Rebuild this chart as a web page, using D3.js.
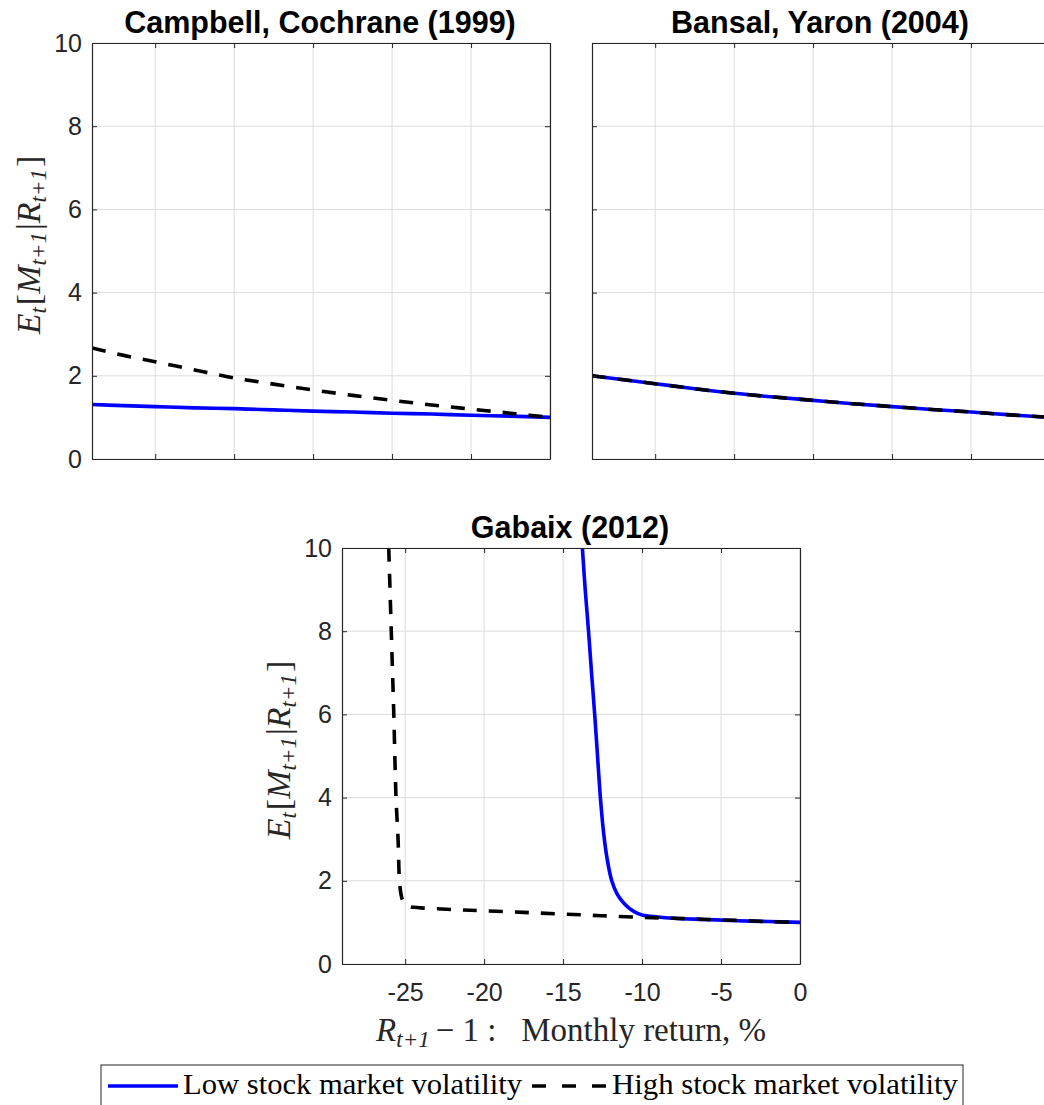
<!DOCTYPE html>
<html>
<head>
<meta charset="utf-8">
<script src="https://cdn.jsdelivr.net/npm/d3@7/dist/d3.min.js"></script>
<style>
  html, body { margin: 0; padding: 0; background: #fff; }
  svg { display: block; }
</style>
</head>
<body>
<svg id="chart" width="1044" height="1105"></svg>
<script>
// ---------------- DATA ----------------
const panelTitles = ["Campbell, Cochrane (1999)", "Bansal, Yaron (2004)", "Gabaix (2012)"];
const xTicks = [-25, -20, -15, -10, -5, 0];
const yTicks = [0, 2, 4, 6, 8, 10];
const xDomain = [-29, 0];
const yDomain = [0, 10];

// Campbell, Cochrane (1999)
const ccX     = [-29, -27.5, -25, -22.5, -20, -17.5, -15, -12.5, -10, -7.5, -5, -2.5, 0];
const ccLow   = [1.31, 1.29, 1.26, 1.23, 1.21, 1.18, 1.15, 1.13, 1.10, 1.08, 1.05, 1.03, 1.00];
const ccHigh  = [2.67, 2.53, 2.34, 2.14, 1.95, 1.80, 1.66, 1.53, 1.41, 1.30, 1.20, 1.10, 1.00];

// Bansal, Yaron (2004)
const byX     = [-29, -27.5, -25, -22.5, -20, -17.5, -15, -12.5, -10, -7.5, -5, -2.5, 0];
const byLow   = [2.00, 1.93, 1.81, 1.69, 1.58, 1.49, 1.41, 1.33, 1.26, 1.19, 1.13, 1.06, 1.00];
const byHigh  = [2.00, 1.93, 1.81, 1.69, 1.58, 1.49, 1.41, 1.33, 1.26, 1.19, 1.13, 1.06, 1.00];

// Gabaix (2012)
const gbLowX  = [-13.78, -13.6, -13.39, -13.2, -13.0, -12.82, -12.64, -12.42, -12.2, -11.92, -11.6, -11.24, -10.9, -10.5, -10.0, -9.0, -8.0, -6.0, -4.0, -2.0, 0];
const gbLowY  = [10, 9, 8, 7, 6, 5, 4, 3.1, 2.5, 2.0, 1.7, 1.5, 1.37, 1.26, 1.18, 1.13, 1.10, 1.07, 1.04, 1.02, 1.00];
const gbHighX = [-26.04, -25.88, -25.72, -25.58, -25.45, -25.36, -25.25, -25.1, -24.8, -24.0, -22.0, -20.0, -17.5, -15.0, -12.5, -10.0, -8.0, -6.0, -4.0, -2.0, 0];
const gbHighY = [10, 8, 6, 4, 3, 2.0, 1.65, 1.48, 1.39, 1.35, 1.31, 1.28, 1.24, 1.20, 1.16, 1.12, 1.10, 1.07, 1.05, 1.02, 1.00];

const legendLabels = ["Low stock market volatility", "High stock market volatility"];

// ---------------- LAYOUT ----------------
const svg = d3.select("#chart");
const W = 458, H = 416;
const panels = [
  { left: 92,  top: 43,  title: panelTitles[0], xLabels: false, yLabels: true,
    series: [ {x: ccX, y: ccLow, type: "low"}, {x: ccX, y: ccHigh, type: "high"} ] },
  { left: 592, top: 43,  title: panelTitles[1], xLabels: false, yLabels: false,
    series: [ {x: byX, y: byLow, type: "low"}, {x: byX, y: byHigh, type: "high"} ] },
  { left: 342, top: 548, title: panelTitles[2], xLabels: true, yLabels: true,
    series: [ {x: gbLowX, y: gbLowY, type: "low"}, {x: gbHighX, y: gbHighY, type: "high"} ] }
];

const axisColor = "#262626";
const gridColor = "#dcdcdc";
const tickFont = "'Liberation Sans', Arial, sans-serif";
const serif = "'Liberation Serif', 'Times New Roman', serif";
const fmt = d => String(d); // plain hyphen-minus like the original

const styleFor = t => t === "low"
  ? { stroke: "#0000ff", dash: null }
  : { stroke: "#000000", dash: "14,12" };

panels.forEach((p, i) => {
  const x = d3.scaleLinear().domain(xDomain).range([0, W]);
  const y = d3.scaleLinear().domain(yDomain).range([H, 0]);
  const g = svg.append("g").attr("transform", `translate(${p.left},${p.top})`);

  g.append("rect").attr("width", W).attr("height", H).attr("fill", "#fff");

  // grid
  g.append("g").selectAll("line").data(xTicks).join("line")
    .attr("x1", d => x(d)).attr("x2", d => x(d)).attr("y1", 0).attr("y2", H)
    .attr("stroke", gridColor).attr("stroke-width", 1);
  g.append("g").selectAll("line").data(yTicks).join("line")
    .attr("y1", d => y(d)).attr("y2", d => y(d)).attr("x1", 0).attr("x2", W)
    .attr("stroke", gridColor).attr("stroke-width", 1);

  const cid = "clip" + i;
  g.append("clipPath").attr("id", cid).append("rect").attr("width", W).attr("height", H);

  const lg = g.append("g").attr("clip-path", `url(#${cid})`);
  p.series.forEach(s => {
    const pts = s.x.map((v, k) => [v, s.y[k]]);
    const st = styleFor(s.type);
    const gen = (i === 2)
      ? d3.line().x(d => x(d[0])).y(d => y(d[1])).curve(d3.curveCatmullRom.alpha(0.5))
      : d3.line().x(d => x(d[0])).y(d => y(d[1])).curve(d3.curveMonotoneX);
    lg.append("path").datum(pts)
      .attr("d", gen)
      .attr("fill", "none")
      .attr("stroke", st.stroke)
      .attr("stroke-width", 3.6)
      .attr("stroke-dasharray", st.dash)
      .attr("stroke-linejoin", "round");
  });

  const tickLen = 5;
  const bottom = d3.axisBottom(x).tickValues(xTicks).tickSizeInner(-tickLen).tickSizeOuter(0)
    .tickFormat(p.xLabels ? fmt : () => "").tickPadding(19);
  const top = d3.axisTop(x).tickValues(xTicks).tickSizeInner(-tickLen).tickSizeOuter(0).tickFormat(() => "");
  const left = d3.axisLeft(y).tickValues(yTicks).tickSizeInner(-tickLen).tickSizeOuter(0)
    .tickFormat(p.yLabels ? fmt : () => "").tickPadding(10);
  const right = d3.axisRight(y).tickValues(yTicks).tickSizeInner(-tickLen).tickSizeOuter(0).tickFormat(() => "");

  const styleAxis = sel => {
    sel.selectAll("path").attr("stroke", axisColor).attr("stroke-width", 1.2);
    sel.selectAll("line").attr("stroke", axisColor).attr("stroke-width", 1);
    sel.selectAll("text").attr("fill", axisColor).style("font-family", tickFont).style("font-size", "25px");
  };
  g.append("g").attr("transform", `translate(0,${H})`).call(bottom).call(styleAxis);
  g.append("g").call(top).call(styleAxis);
  g.append("g").call(left).call(styleAxis);
  g.append("g").attr("transform", `translate(${W},0)`).call(right).call(styleAxis);
  g.selectAll(".tick text").filter(function() { return this.textContent === ""; }).remove();

  // title
  g.append("text")
    .attr("x", W / 2 - 1).attr("y", -10)
    .attr("text-anchor", "middle")
    .style("font-family", tickFont).style("font-weight", "bold").style("font-size", "30.5px")
    .attr("fill", "#000")
    .text(p.title);

  // y label
  if (p.yLabels) {
    const t = g.append("text")
      .attr("transform", `translate(-52,${H / 2 - 6}) rotate(-90)`)
      .attr("text-anchor", "middle")
      .style("font-family", serif).style("font-size", "34px")
      .attr("fill", axisColor);
    t.append("tspan").style("font-style", "italic").text("E");
    t.append("tspan").style("font-style", "italic").style("font-size", "23px").attr("dy", 6).text("t");
    t.append("tspan").attr("dy", -6).attr("dx", 2).text("[");
    t.append("tspan").style("font-style", "italic").text("M");
    t.append("tspan").style("font-style", "italic").style("font-size", "23px").attr("dy", 6).text("t+1");
    t.append("tspan").attr("dy", -6).attr("dx", 2).text("|");
    t.append("tspan").style("font-style", "italic").text("R");
    t.append("tspan").style("font-style", "italic").style("font-size", "23px").attr("dy", 6).text("t+1");
    t.append("tspan").attr("dy", -6).attr("dx", 2).text("]");
  }

  // x label
  if (p.xLabels) {
    const t = g.append("text")
      .attr("x", W / 2).attr("y", H + 77)
      .attr("text-anchor", "middle")
      .style("font-family", serif).style("font-size", "33px")
      .attr("fill", axisColor);
    t.append("tspan").style("font-style", "italic").text("R");
    t.append("tspan").style("font-style", "italic").style("font-size", "23px").attr("dy", 6).text("t+1");
    t.append("tspan").attr("dy", -6).attr("dx", 6).text("\u2212 1 :\u2002 Monthly return, %");
  }
});

// ---------------- LEGEND ----------------
const lg = svg.append("g");
lg.append("rect").attr("x", 101).attr("y", 1065).attr("width", 862).attr("height", 60)
  .attr("fill", "#fff").attr("stroke", axisColor).attr("stroke-width", 1);
lg.append("line").attr("x1", 108).attr("x2", 178).attr("y1", 1086).attr("y2", 1086)
  .attr("stroke", "#0000ff").attr("stroke-width", 3.6);
lg.append("text").attr("x", 183).attr("y", 1094)
  .style("font-family", serif).style("font-size", "29px").attr("fill", "#000")
  .attr("textLength", 339).attr("lengthAdjust", "spacingAndGlyphs")
  .text(legendLabels[0]);
lg.append("line").attr("x1", 532).attr("x2", 606).attr("y1", 1086).attr("y2", 1086)
  .attr("stroke", "#000").attr("stroke-width", 3.6).attr("stroke-dasharray", "14,16");
lg.append("text").attr("x", 612).attr("y", 1094)
  .style("font-family", serif).style("font-size", "29px").attr("fill", "#000")
  .attr("textLength", 346).attr("lengthAdjust", "spacingAndGlyphs")
  .text(legendLabels[1]);
</script>
</body>
</html>
